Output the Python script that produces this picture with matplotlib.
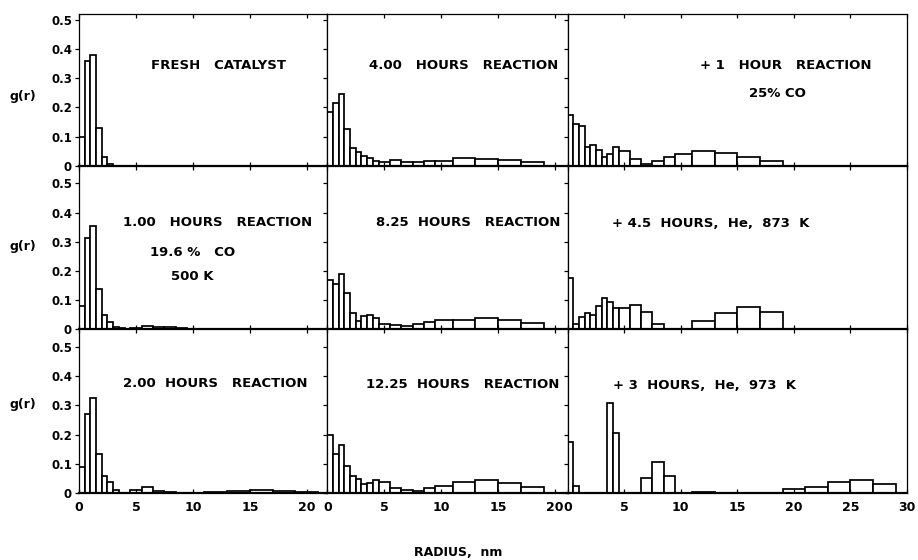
import matplotlib.pyplot as plt
import numpy as np

plt.rcParams['font.family'] = ['DejaVu Sans']
plt.rcParams['font.weight'] = 'bold'

# radius bins, nm
edges = [0, 0.5, 1, 1.5, 2, 2.5, 3, 3.5, 4, 4.5, 5.5, 6.5, 7.5, 8.5, 9.5,
         11, 13, 15, 17, 19, 21, 23, 25, 27, 29]

# g(r) per bin
fresh = [0.10, 0.36, 0.38, 0.13, 0.032, 0.007]
h1_00 = [0.079, 0.312, 0.353, 0.139, 0.051, 0.024, 0.009, 0.004, 0,
         0.006, 0.013, 0.009, 0.007, 0.004]
h2_00 = [0.09, 0.27, 0.326, 0.134, 0.058, 0.037, 0.011, 0, 0,
         0.01, 0.02, 0.008, 0.005, 0, 0, 0.005, 0.008, 0.01, 0.008, 0.003]
h4_00 = [0.184, 0.216, 0.247, 0.127, 0.061, 0.046, 0.034, 0.027, 0.017,
         0.012, 0.02, 0.014, 0.012, 0.015, 0.017, 0.026, 0.025, 0.019, 0.012]
h8_25 = [0.169, 0.157, 0.19, 0.126, 0.057, 0.03, 0.046, 0.05, 0.038,
         0.02, 0.015, 0.011, 0.017, 0.025, 0.032, 0.034, 0.038, 0.031, 0.022]
h12_25 = [0.2, 0.133, 0.164, 0.094, 0.058, 0.049, 0.031, 0.035, 0.044,
          0.037, 0.017, 0.01, 0.006, 0.017, 0.024, 0.037, 0.044, 0.035, 0.021]
co25 = [0.175, 0.145, 0.136, 0.066, 0.073, 0.054, 0.031, 0.04, 0.063,
        0.05, 0.025, 0.008, 0.017, 0.031, 0.041, 0.052, 0.043, 0.031, 0.016]
he873 = [0.175, 0.018, 0.041, 0.057, 0.049, 0.08, 0.106, 0.094, 0.072,
         0.074, 0.083, 0.059, 0.018, 0, 0, 0.03, 0.057, 0.078, 0.06]
he973 = [0.174, 0.025, 0, 0, 0, 0, 0, 0.309, 0.206,
         0, 0, 0.052, 0.106, 0.058, 0, 0.002, 0, 0, 0,
         0.012, 0.02, 0.038, 0.045, 0.031]

panels = [
    [fresh, h4_00, co25],
    [h1_00, h8_25, he873],
    [h2_00, h12_25, he973],
]

labels = [
    [[("FRESH   CATALYST", 0.5625, 0.662)],
     [("4.00   HOURS   REACTION", 0.567, 0.66)],
     [("+ 1   HOUR   REACTION", 0.643, 0.66), ("25% CO", 0.618, 0.475)]],
    [[("1.00   HOURS   REACTION", 0.558, 0.652), ("19.6 %   CO", 0.458, 0.47),
      ("500 K", 0.458, 0.321)],
     [("8.25  HOURS   REACTION", 0.5875, 0.652)],
     [("+ 4.5  HOURS,  He,  873  K", 0.422, 0.646)]],
    [[("2.00  HOURS   REACTION", 0.55, 0.667)],
     [("12.25  HOURS   REACTION", 0.5625, 0.662)],
     [("+ 3  HOURS,  He,  973  K", 0.403, 0.66)]],
]

xmax = [21.8, 21.1, 29.8]
ymax = [0.52, 0.56, 0.56]
gr_y = [0.46, 0.508, 0.543]

fig, axes = plt.subplots(3, 3, figsize=(9.18, 5.6), dpi=100,
                         gridspec_kw=dict(width_ratios=xmax, height_ratios=ymax,
                                          wspace=0, hspace=0))
fig.subplots_adjust(left=79/918, right=907/918, top=1-14/560, bottom=1-493/560)

e = np.array(edges)
for r in range(3):
    for c in range(3):
        ax = axes[r, c]
        h = np.array(panels[r][c])
        left = e[:len(h)]
        w = np.diff(e)[:len(h)]
        m = h > 0
        ax.bar(left[m], h[m], width=w[m], align='edge', facecolor='white',
               edgecolor='black', linewidth=1.25)
        ax.set_xlim(0, xmax[c])
        ax.set_ylim(0, ymax[r])
        ax.set_yticks([0, 0.1, 0.2, 0.3, 0.4, 0.5])
        xt = [0, 5, 10, 15, 20] if c < 2 else [0, 5, 10, 15, 20, 25, 30]
        ax.set_xticks(xt)
        ax.tick_params(axis='x', direction='in', length=3, width=0.9,
                       top=True, labelsize=9, pad=6)
        ax.tick_params(axis='y', direction='out', length=3, width=0.9,
                       labelsize=8.5, pad=2)
        if c == 0:
            ax.set_yticklabels(['0', '0.1', '0.2', '0.3', '0.4', '0.5'],
                               fontweight='bold')
            ax.text(-0.225, gr_y[r], "g(r)",
                    transform=ax.transAxes, ha='center', va='center',
                    fontsize=9, fontweight='bold')
        else:
            ax.set_yticklabels([])
        if r == 2:
            ax.set_xticklabels([str(v) for v in xt], fontweight='bold')
        else:
            ax.set_xticklabels([])
        for s in ax.spines.values():
            s.set_linewidth(0.9)
        ax.spines['bottom'].set_linewidth(1.6)
        for txt, fx, fy in labels[r][c]:
            ax.text(fx, fy, txt, transform=ax.transAxes, ha='center',
                    va='center', fontsize=9.5, fontweight='bold')

fig.text(0.499, 0.0125, "RADIUS,  nm", ha='center', va='center',
         fontsize=9, fontweight='bold')

fig.savefig("out.png", dpi=100)
